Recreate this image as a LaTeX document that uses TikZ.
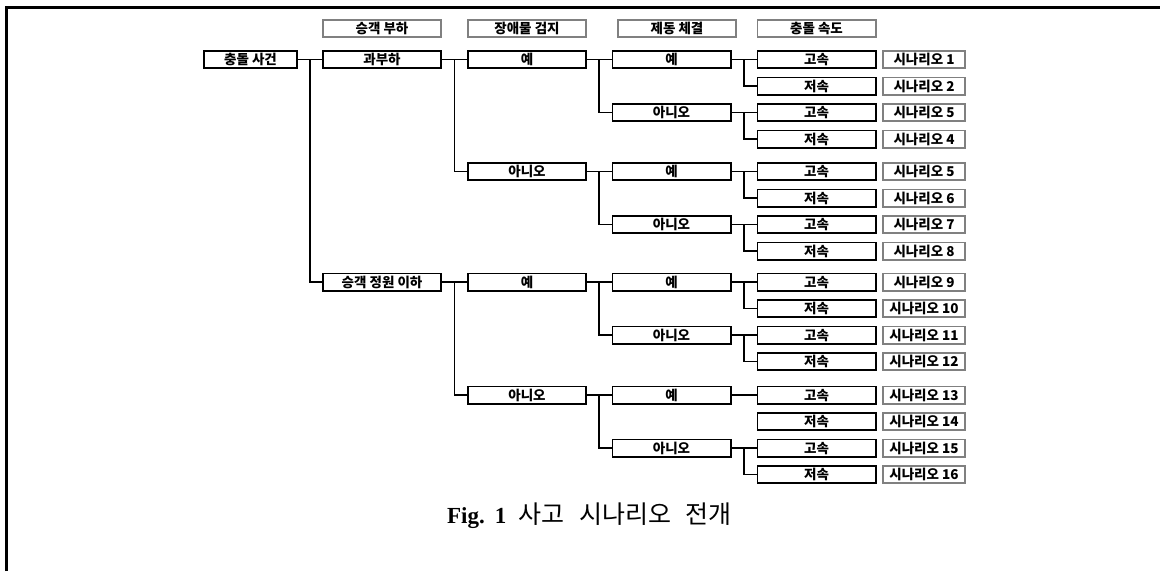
\documentclass[tikz,border=0pt]{standalone}
\usepackage{fontspec}
\setmainfont{Liberation Serif}
\newfontfamily\kofont{Noto Sans CJK KR}
\usetikzlibrary{positioning}
\usetikzlibrary{calc}
\definecolor{boxgray}{RGB}{128,128,128}

\begin{document}
\begin{tikzpicture}[x=1pt,y=-1pt,line width=1.6pt,node distance=26.5pt,
					font={\kofont\bfseries\fontsize{13.5}{15}\selectfont}]
					\tikzstyle{box}=[shape=rectangle,draw,inner sep=0pt,minimum width=118.4pt,minimum height=17.4pt,text height=11pt,text depth=1pt]
					\tikzstyle{headbox}=[box,draw=boxgray]
					\tikzstyle{casebox}=[box,draw=boxgray,minimum width=82.4pt]
					\tikzstyle{fork}=[to path={-| ($(\tikztostart)!.5!(\tikztotarget)$) |- (\tikztotarget)}]
					
					\useasboundingbox (0,0) rectangle (1160,571);
					\draw[line width=3pt] (6.7,571) -- (6.7,7.7) -- (1160,7.7);
					
					% collision speed
					\node[box]         (V_1) at (816.5,59.5) {고속};
					\node[box]         (V_2) [below of=V_1] {저속};
					\node[box]         (V_3) [below of=V_2] {고속};
					\node[box]         (V_4) [below of=V_3] {저속};
					\node[box]         (V_5) [below of=V_4, node distance=32.5pt] {고속};
					\node[box]         (V_6) [below of=V_5] {저속};
					\node[box]         (V_7) [below of=V_6] {고속};
					\node[box]         (V_8) [below of=V_7] {저속};
					\node[box]         (V_9) [below of=V_8, node distance=31pt] {고속};
					\node[box]         (V_10) [below of=V_9] {저속};
					\node[box]         (V_11) [below of=V_10] {고속};
					\node[box]         (V_12) [below of=V_11] {저속};
					\node[box]         (V_13) [below of=V_12, node distance=33.5pt] {고속};
					\node[box]         (V_14) [below of=V_13] {저속};
					\node[box]         (V_15) [below of=V_14] {고속};
					\node[box]         (V_16) [below of=V_15] {저속};
					
					% scenarios
					\node[casebox]     (R_1) [right of=V_1, node distance=107.5pt] {시나리오 1};
					\node[casebox]     (R_2) [right of=V_2, node distance=107.5pt] {시나리오 2};
					\node[casebox]     (R_3) [right of=V_3, node distance=107.5pt] {시나리오 5};
					\node[casebox]     (R_4) [right of=V_4, node distance=107.5pt] {시나리오 4};
					\node[casebox]     (R_5) [right of=V_5, node distance=107.5pt] {시나리오 5};
					\node[casebox]     (R_6) [right of=V_6, node distance=107.5pt] {시나리오 6};
					\node[casebox]     (R_7) [right of=V_7, node distance=107.5pt] {시나리오 7};
					\node[casebox]     (R_8) [right of=V_8, node distance=107.5pt] {시나리오 8};
					\node[casebox]     (R_9) [right of=V_9, node distance=107.5pt] {시나리오 9};
					\node[casebox]     (R_10) [right of=V_10, node distance=107.5pt] {시나리오 10};
					\node[casebox]     (R_11) [right of=V_11, node distance=107.5pt] {시나리오 11};
					\node[casebox]     (R_12) [right of=V_12, node distance=107.5pt] {시나리오 12};
					\node[casebox]     (R_13) [right of=V_13, node distance=107.5pt] {시나리오 13};
					\node[casebox]     (R_14) [right of=V_14, node distance=107.5pt] {시나리오 14};
					\node[casebox]     (R_15) [right of=V_15, node distance=107.5pt] {시나리오 15};
					\node[casebox]     (R_16) [right of=V_16, node distance=107.5pt] {시나리오 16};
					
					% braking
					\node[box]         (B_1) [left of=V_1, node distance=145pt] {예};
					\node[box]         (B_2) [left of=V_3, node distance=145pt] {아니오};
					\node[box]         (B_3) [left of=V_5, node distance=145pt] {예};
					\node[box]         (B_4) [left of=V_7, node distance=145pt] {아니오};
					\node[box]         (B_5) [left of=V_9, node distance=145pt] {예};
					\node[box]         (B_6) [left of=V_11, node distance=145pt] {아니오};
					\node[box]         (B_7) [left of=V_13, node distance=145pt] {예};
					\node[box]         (B_8) [left of=V_15, node distance=145pt] {아니오};
					
					% obstacle detection
					\node[box]         (O_1) [left of=B_1, node distance=144.5pt] {예};
					\node[box]         (O_2) [left of=B_3, node distance=144.5pt] {아니오};
					\node[box]         (O_3) [left of=B_5, node distance=144.5pt] {예};
					\node[box]         (O_4) [left of=B_7, node distance=144.5pt] {아니오};
					
					% passenger load
					\node[box]         (P_1) [left of=O_1, node distance=145pt] {과부하};
					\node[box]         (P_2) [left of=O_3, node distance=145pt] {승객 정원 이하};
					
					\node[box, minimum width=93.4pt] (E) [left of=P_1, node distance=131.5pt] {충돌 사건};
					
					% headers
					\node[headbox]     (H_1) [above of=P_1, node distance=31pt] {승객 부하};
					\node[headbox]     (H_2) [above of=O_1, node distance=31pt] {장애물 검지};
					\node[headbox]     (H_3) [above of=B_1, node distance=31pt, xshift=5.5pt] {제동 체결};
					\node[headbox]     (H_4) [above of=V_1, node distance=31pt] {충돌 속도};
					
					\path (E.east) edge[fork] (P_1.west)
					(E.east) edge[fork] (P_2.west)
					(P_1.east) edge[fork] (O_1.west)
					(P_1.east) edge[fork] (O_2.west)
					(P_2.east) edge[fork] (O_3.west)
					(P_2.east) edge[fork] (O_4.west)
					(O_1.east) edge[fork] (B_1.west)
					(O_1.east) edge[fork] (B_2.west)
					(O_2.east) edge[fork] (B_3.west)
					(O_2.east) edge[fork] (B_4.west)
					(O_3.east) edge[fork] (B_5.west)
					(O_3.east) edge[fork] (B_6.west)
					(O_4.east) edge[fork] (B_7.west)
					(O_4.east) edge[fork] (B_8.west)
					(B_1.east) edge[fork] (V_1.west)
					(B_1.east) edge[fork] (V_2.west)
					(B_2.east) edge[fork] (V_3.west)
					(B_2.east) edge[fork] (V_4.west)
					(B_3.east) edge[fork] (V_5.west)
					(B_3.east) edge[fork] (V_6.west)
					(B_4.east) edge[fork] (V_7.west)
					(B_4.east) edge[fork] (V_8.west)
					(B_5.east) edge[fork] (V_9.west)
					(B_5.east) edge[fork] (V_10.west)
					(B_6.east) edge[fork] (V_11.west)
					(B_6.east) edge[fork] (V_12.west)
					(B_7.east) edge[fork] (V_13.west)
					(B_8.east) edge[fork] (V_15.west)
					(B_8.east) edge[fork] (V_16.west)
					;
					
					\node[anchor=base west, font={\bfseries\fontsize{23}{25}\selectfont}] (cap) at (443,523)
					{Fig.\hspace{10pt}1\hspace{12pt}{\kofont\mdseries\fontsize{25}{27}\selectfont 사고\hspace{15pt}시나리오\hspace{14pt}전개}};
					\end{tikzpicture}
\end{document}
